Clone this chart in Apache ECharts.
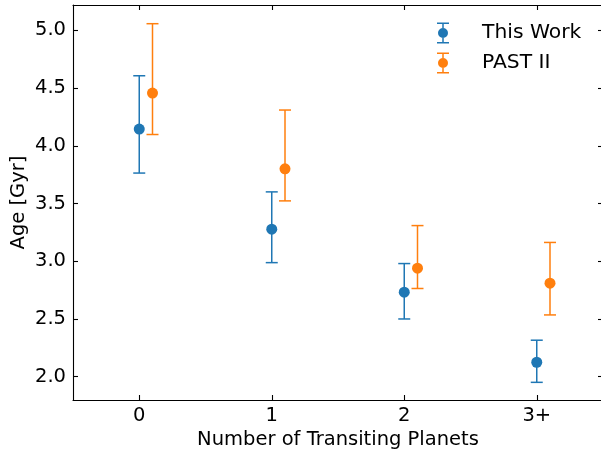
<!DOCTYPE html>
<html>
<head>
<meta charset="utf-8">
<script src="https://cdn.jsdelivr.net/npm/echarts@6/dist/echarts.min.js"></script>
<style>
  html, body { margin: 0; padding: 0; background: #fff; }
  #chart { width: 601px; height: 451px; }
</style>
</head>
<body>
<div id="chart"></div>
<script>
// Planet-count bins and their tick labels
const categories = [0, 1, 2, 3];
const tickLabels = ['0', '1', '2', '3+'];
const yTicks = [2.0, 2.5, 3.0, 3.5, 4.0, 4.5, 5.0];

// This Work: median age and error bar bounds (Gyr)
const thisWorkAge   = [4.145, 3.278, 2.732, 2.125];
const thisWorkUpper = [4.607, 3.601, 2.980, 2.316];
const thisWorkLower = [3.764, 2.988, 2.500, 1.951];

// PAST II: median age and error bar bounds (Gyr)
const pastAge   = [4.457, 3.801, 2.940, 2.810];
const pastUpper = [5.058, 4.310, 3.309, 3.163];
const pastLower = [4.098, 3.523, 2.764, 2.535];

// horizontal shift of the PAST II points
const pastOffset = 0.1;

const BLUE = '#1f77b4';
const ORANGE = '#ff7f0e';
const FONT = 'DejaVu Sans';
const FS = 19.5;

function errData(xs, lo, hi, shift) {
  return xs.map((x, i) => [x + shift, lo[i], hi[i]]);
}
function ptData(xs, ys, shift) {
  return xs.map((x, i) => [x + shift, ys[i]]);
}

function errorBarRender(color) {
  return function (params, api) {
    const x = api.value(0);
    const lo = api.coord([x, api.value(1)]);
    const hi = api.coord([x, api.value(2)]);
    const cap = 6;
    const style = { stroke: color, lineWidth: 1.5, fill: null };
    return {
      type: 'group',
      children: [
        { type: 'line', shape: { x1: hi[0], y1: hi[1], x2: lo[0], y2: lo[1] }, style },
        { type: 'line', shape: { x1: hi[0] - cap, y1: hi[1], x2: hi[0] + cap, y2: hi[1] }, style },
        { type: 'line', shape: { x1: lo[0] - cap, y1: lo[1], x2: lo[0] + cap, y2: lo[1] }, style }
      ]
    };
  };
}

// legend glyph: capped vertical bar with a dot
const errIcon = 'path://M0,0H12V1.5H0Z M0,19.5H12V21H0Z M5.25,0H6.75V21H5.25Z M1,10.5A5,5 0 1 1 11,10.5A5,5 0 1 1 1,10.5Z';

const axisLineStyle = { color: '#000', width: 1.1 };
const tickStyle = { color: '#000', width: 1.1 };

const chart = echarts.init(document.getElementById('chart'), null, { renderer: 'canvas' });

chart.setOption({
  animation: false,
  backgroundColor: '#fff',
  textStyle: { fontFamily: FONT },
  grid: { left: 73, top: 5, right: -2, bottom: 51, containLabel: false, outerBoundsMode: 'none' },
  legend: {
    orient: 'vertical',
    left: 437,
    top: 22.5,
    padding: 0,
    itemWidth: 12,
    itemHeight: 21,
    itemGap: 9,
    textStyle: { fontFamily: FONT, fontSize: 20.3, color: '#000', padding: [0, 0, 0, 28] },
    data: [
      { name: 'This Work', icon: errIcon, itemStyle: { color: BLUE } },
      { name: 'PAST II', icon: errIcon, itemStyle: { color: ORANGE } }
    ]
  },
  xAxis: [
    {
      type: 'value', position: 'bottom', min: -0.5, max: 3.5,
      name: 'Number of Transiting Planets', nameLocation: 'middle', nameGap: 30,
      nameMoveOverlap: false,
      nameTextStyle: { fontFamily: FONT, fontSize: FS, color: '#000' },
      axisLine: { show: true, onZero: false, lineStyle: axisLineStyle },
      axisTick: { show: true, inside: true, length: 5, lineStyle: tickStyle, customValues: categories },
      axisLabel: {
        show: true, margin: 6, fontFamily: FONT, fontSize: FS, color: '#000',
        customValues: categories,
        formatter: v => tickLabels[categories.indexOf(Math.round(v))]
      },
      splitLine: { show: false }
    },
    {
      type: 'value', position: 'top', min: -0.5, max: 3.5,
      axisLine: { show: true, onZero: false, lineStyle: axisLineStyle },
      axisTick: { show: true, inside: true, length: 5, lineStyle: tickStyle, customValues: categories },
      axisLabel: { show: false },
      splitLine: { show: false }
    }
  ],
  yAxis: [
    {
      type: 'value', position: 'left', min: 1.798, max: 5.22,
      name: 'Age [Gyr]', nameLocation: 'middle', nameGap: 44,
      nameMoveOverlap: false,
      nameTextStyle: { fontFamily: FONT, fontSize: FS, color: '#000' },
      axisLine: { show: true, onZero: false, lineStyle: axisLineStyle },
      axisTick: { show: true, inside: true, length: 5, lineStyle: tickStyle, customValues: yTicks },
      axisLabel: {
        show: true, margin: 7, fontFamily: FONT, fontSize: FS, color: '#000',
        customValues: yTicks,
        formatter: v => v.toFixed(1)
      },
      splitLine: { show: false }
    },
    {
      type: 'value', position: 'right', min: 1.798, max: 5.22,
      axisLine: { show: true, onZero: false, lineStyle: axisLineStyle },
      axisTick: { show: true, inside: true, length: 5, lineStyle: tickStyle, customValues: yTicks },
      axisLabel: { show: false },
      splitLine: { show: false }
    }
  ],
  series: [
    {
      name: 'This Work', type: 'custom', xAxisIndex: 0, yAxisIndex: 0,
      renderItem: errorBarRender(BLUE),
      encode: { x: 0, y: [1, 2] },
      data: errData(categories, thisWorkLower, thisWorkUpper, 0),
      z: 2
    },
    {
      name: 'This Work', type: 'scatter', xAxisIndex: 0, yAxisIndex: 0,
      symbol: 'circle', symbolSize: 11,
      itemStyle: { color: BLUE, opacity: 1 },
      data: ptData(categories, thisWorkAge, 0),
      z: 3
    },
    {
      name: 'PAST II', type: 'custom', xAxisIndex: 0, yAxisIndex: 0,
      renderItem: errorBarRender(ORANGE),
      encode: { x: 0, y: [1, 2] },
      data: errData(categories, pastLower, pastUpper, pastOffset),
      z: 4
    },
    {
      name: 'PAST II', type: 'scatter', xAxisIndex: 0, yAxisIndex: 0,
      symbol: 'circle', symbolSize: 11,
      itemStyle: { color: ORANGE, opacity: 1 },
      data: ptData(categories, pastAge, pastOffset),
      z: 5
    }
  ]
});
</script>
</body>
</html>
